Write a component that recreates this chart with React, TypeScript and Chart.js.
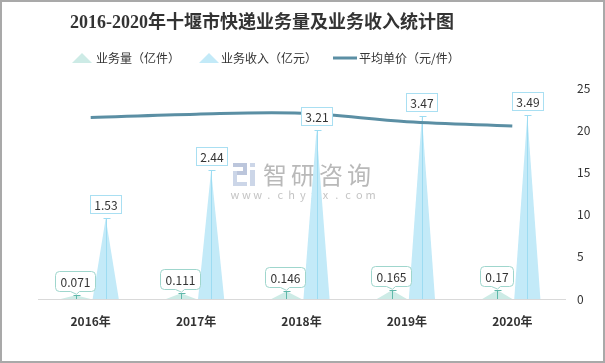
import React, { useEffect, useRef } from "react";
import { Chart, registerables } from "chart.js";

Chart.register(...registerables);

// ---- data ----
const categories = ["2016年", "2017年", "2018年", "2019年", "2020年"];
const volume = [0.071, 0.111, 0.146, 0.165, 0.17]; // 业务量（亿件）
const revenue = [1.53, 2.44, 3.21, 3.47, 3.49]; // 业务收入（亿元）
const unitPrice = [21.5, 21.9, 22.0, 21.0, 20.5]; // 平均单价（元/件）
const leftAxisMax = 4;
const rightAxisMax = 25;
const rightAxisStep = 5;
const titleText = "2016-2020年十堰市快递业务量及业务收入统计图";
const legendLabels = ["业务量（亿件）", "业务收入（亿元）", "平均单价（元/件）"];
const watermarkName = "智研咨询";
const watermarkUrl = "www.chyxx.com";

// ---- styles ----
const SANS = '"Noto Sans CJK SC", "Noto Sans", sans-serif';
const C = {
  volFill: "#cdebe6",
  volMark: "#5fb8aa",
  volBorder: "#9fd6cd",
  revFill: "#c3eaf8",
  revMark: "#9ddcf2",
  revBorder: "#a9dff2",
  line: "#5b8fa4",
  text: "#333333",
};

function roundRectPath(ctx: CanvasRenderingContext2D, x: number, y: number, w: number, h: number, r: number) {
  ctx.moveTo(x + r, y);
  ctx.lineTo(x + w - r, y);
  ctx.quadraticCurveTo(x + w, y, x + w, y + r);
  ctx.lineTo(x + w, y + h - r);
  ctx.quadraticCurveTo(x + w, y + h, x + w - r, y + h);
}

const frame = {
  id: "frame",
  beforeDraw(chart: any) {
    const ctx = chart.ctx;
    ctx.save();
    ctx.fillStyle = "#ffffff";
    ctx.fillRect(0, 0, chart.width, chart.height);
    ctx.restore();
  },
  afterDraw(chart: any) {
    const ctx = chart.ctx;
    ctx.save();
    ctx.strokeStyle = "#a9a9a9";
    ctx.lineWidth = 2;
    ctx.strokeRect(1, 1, chart.width - 2, chart.height - 2);
    ctx.restore();
  },
};

const header = {
  id: "header",
  afterDraw(chart: any) {
    const ctx = chart.ctx;
    ctx.save();
    ctx.fillStyle = C.text;
    ctx.textBaseline = "middle";
    ctx.textAlign = "center";
    ctx.font = 'bold 18px "Liberation Serif", "Noto Sans CJK SC", serif';
    ctx.fillText(titleText, 262, 23);

    // legend
    ctx.font = "12px " + SANS;
    ctx.textAlign = "left";
    const ly = 58;
    ctx.fillStyle = C.volFill;
    ctx.beginPath();
    ctx.moveTo(72, ly + 5);
    ctx.lineTo(82, ly - 5);
    ctx.lineTo(92, ly + 5);
    ctx.closePath();
    ctx.fill();
    ctx.fillStyle = C.text;
    ctx.fillText(legendLabels[0], 96, ly);
    ctx.fillStyle = C.revFill;
    ctx.beginPath();
    ctx.moveTo(199, ly + 5);
    ctx.lineTo(209, ly - 5);
    ctx.lineTo(219, ly + 5);
    ctx.closePath();
    ctx.fill();
    ctx.fillStyle = C.text;
    ctx.fillText(legendLabels[1], 221, ly);
    ctx.strokeStyle = C.line;
    ctx.lineWidth = 3;
    ctx.beginPath();
    ctx.moveTo(333, ly);
    ctx.lineTo(357, ly);
    ctx.stroke();
    ctx.fillStyle = C.text;
    ctx.fillText(legendLabels[2], 359, ly);
    ctx.restore();
  },
};

const watermark = {
  id: "watermark",
  beforeDatasetsDraw(chart: any) {
    const ctx = chart.ctx;
    ctx.save();
    ctx.fillStyle = "#bcc6dc";
    ctx.fillRect(233, 163, 14, 4);
    ctx.fillRect(243, 163, 4, 12);
    ctx.fillRect(233, 171, 14, 4);
    ctx.fillStyle = "#ccd6e8";
    ctx.fillRect(233, 171, 4, 15);
    ctx.fillRect(233, 182, 14, 4);
    ctx.fillRect(250, 163, 5, 4);
    ctx.fillRect(250, 170, 5, 16);
    ctx.fillStyle = "#b9b9b9";
    ctx.textBaseline = "middle";
    ctx.textAlign = "left";
    ctx.font = "24px " + SANS;
    Array.from(watermarkName).forEach((ch, i) => ctx.fillText(ch, 263 + i * 28, 175));
    ctx.fillStyle = "#c4c4c4";
    ctx.font = "11px " + SANS;
    ctx.textAlign = "center";
    Array.from(watermarkUrl).forEach((ch, i) => ctx.fillText(ch, 235 + i * 11.3, 195));
    ctx.restore();
  },
};

const triangles = {
  id: "triangles",
  afterDatasetDraw(chart: any, args: any) {
    const ds = chart.data.datasets[args.index];
    if (ds.type !== "bar") return;
    const ctx = chart.ctx;
    ctx.save();
    args.meta.data.forEach((el: any) => {
      const { x, y, base, width } = el.getProps(["x", "y", "base", "width"], true);
      const w = width * ds.triScale;
      ctx.beginPath();
      ctx.moveTo(x - w / 2, base);
      ctx.lineTo(x, y);
      ctx.lineTo(x + w / 2, base);
      ctx.closePath();
      ctx.fillStyle = ds.triFill;
      ctx.fill();
      const px = Math.round(x) + 0.5;
      const py = Math.round(y) + 0.5;
      ctx.beginPath();
      ctx.moveTo(px, base);
      ctx.lineTo(px, py);
      ctx.moveTo(px - 3, py);
      ctx.lineTo(px + 4, py);
      ctx.strokeStyle = ds.markColor;
      ctx.lineWidth = 1;
      ctx.stroke();
    });
    ctx.restore();
  },
};

const valueLabels = {
  id: "valueLabels",
  afterDatasetsDraw(chart: any) {
    const ctx = chart.ctx;
    ctx.save();
    ctx.font = "12px " + SANS;
    ctx.textBaseline = "middle";
    ctx.textAlign = "center";
    chart.data.datasets.forEach((ds: any, di: number) => {
      if (ds.type !== "bar") return;
      const meta = chart.getDatasetMeta(di);
      meta.data.forEach((el: any, i: number) => {
        const { x, y } = el.getProps(["x", "y"], true);
        const text = String(ds.data[i]);
        const tw = ctx.measureText(text).width;
        if (ds.labelStyle === "box") {
          const bw = Math.round(tw + 8);
          const bh = 18;
          const bx = Math.round(x - bw / 2) + 0.5;
          const by = Math.round(y - 5 - bh) + 0.5;
          ctx.fillStyle = "#ffffff";
          ctx.fillRect(bx, by, bw, bh);
          ctx.strokeStyle = ds.labelBorder;
          ctx.lineWidth = 1;
          ctx.strokeRect(bx, by, bw, bh);
          ctx.fillStyle = C.text;
          ctx.fillText(text, bx + bw / 2, by + bh / 2 + 0.5);
        } else {
          const bw = Math.round(tw + 10);
          const bh = 20;
          const bx = Math.round(x - 1 - bw / 2) + 0.5;
          const by = Math.round(y - 4 - bh) + 0.5;
          const r = 4;
          const bottom = by + bh;
          const tipX = Math.round(x) + 0.5;
          ctx.beginPath();
          roundRectPath(ctx, bx, by, bw, bh, r);
          ctx.lineTo(tipX + 3, bottom);
          ctx.lineTo(tipX, y - 1);
          ctx.lineTo(tipX - 6, bottom);
          ctx.lineTo(bx + r, bottom);
          ctx.quadraticCurveTo(bx, bottom, bx, bottom - r);
          ctx.lineTo(bx, by + r);
          ctx.quadraticCurveTo(bx, by, bx + r, by);
          ctx.closePath();
          ctx.fillStyle = "#ffffff";
          ctx.fill();
          ctx.strokeStyle = ds.labelBorder;
          ctx.lineWidth = 1;
          ctx.stroke();
          ctx.fillStyle = C.text;
          ctx.fillText(text, bx + bw / 2, by + bh / 2 + 0.5);
        }
      });
    });
    ctx.restore();
  },
};

export default function App() {
  const ref = useRef<HTMLCanvasElement | null>(null);
  useEffect(() => {
    if (!ref.current) return;
    const chart = new Chart(ref.current, {
      data: {
        labels: categories,
        datasets: [
          {
            type: "line",
            label: legendLabels[2],
            data: unitPrice,
            yAxisID: "y1",
            borderColor: C.line,
            borderWidth: 3,
            pointRadius: 0,
            tension: 0.35,
            order: 0,
          },
          {
            type: "bar",
            label: legendLabels[0],
            data: volume,
            yAxisID: "y",
            backgroundColor: "rgba(0,0,0,0)",
            borderWidth: 0,
            categoryPercentage: 0.57,
            barPercentage: 1,
            order: 1,
            triScale: 1,
            triFill: C.volFill,
            markColor: C.volMark,
            labelStyle: "callout",
            labelBorder: C.volBorder,
          },
          {
            type: "bar",
            label: legendLabels[1],
            data: revenue,
            yAxisID: "y",
            backgroundColor: "rgba(0,0,0,0)",
            borderWidth: 0,
            categoryPercentage: 0.57,
            barPercentage: 1,
            order: 2,
            triScale: 0.87,
            triFill: C.revFill,
            markColor: C.revMark,
            labelStyle: "box",
            labelBorder: C.revBorder,
          },
        ] as any,
      },
      options: {
        responsive: false,
        animation: false,
        events: [],
        layout: { padding: { left: 38, right: 10, top: 88, bottom: 24 } },
        plugins: {
          legend: { display: false },
          title: { display: false },
          tooltip: { enabled: false },
        },
        scales: {
          x: {
            type: "category",
            grid: { display: false, drawTicks: false },
            border: { display: true, color: "#d9d9d9", width: 1 },
            ticks: {
              color: C.text,
              font: { family: SANS, size: 12, weight: "bold" },
              padding: 15,
              maxRotation: 0,
            },
            afterFit: (s: any) => {
              s.height = 40;
            },
          },
          y: {
            display: false,
            min: 0,
            max: leftAxisMax,
          },
          y1: {
            position: "right",
            min: 0,
            max: rightAxisMax,
            grid: { display: false, drawTicks: false },
            border: { display: false },
            ticks: {
              stepSize: rightAxisStep,
              color: C.text,
              font: { family: SANS, size: 12 },
              padding: 12,
            },
            afterFit: (s: any) => {
              s.width = 30;
            },
          },
        },
      } as any,
      plugins: [frame, watermark, triangles, valueLabels, header],
    });
    return () => chart.destroy();
  }, []);
  return (
    <div style={{ position: "absolute", left: 0, top: 0, width: 605, height: 363 }}>
      <canvas ref={ref} width={605} height={363} style={{ display: "block" }} />
    </div>
  );
}
